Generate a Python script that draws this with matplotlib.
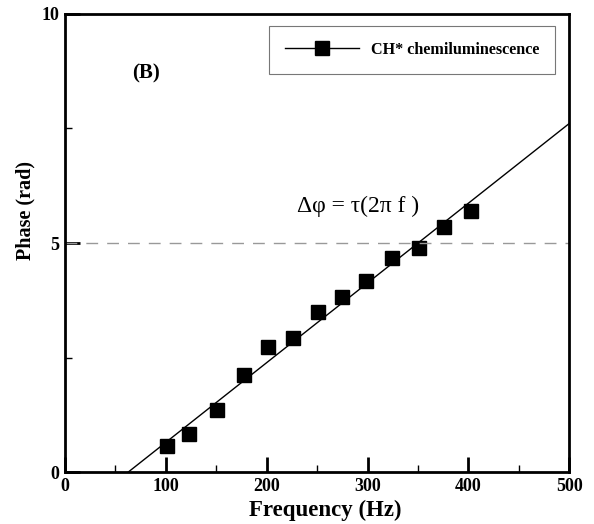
import matplotlib.pyplot as plt
from matplotlib.lines import Line2D
from matplotlib.ticker import MultipleLocator

plt.rcParams['font.family'] = ['Liberation Serif', 'DejaVu Serif']

# measured points (CH* chemiluminescence)
freq = [101, 123, 151, 177, 201, 226.5, 250.5, 274.5, 298.6, 324, 351, 375.3, 402.5]
phase = [0.57, 0.82, 1.35, 2.11, 2.72, 2.93, 3.49, 3.83, 4.16, 4.68, 4.90, 5.36, 5.70]

# linear fit end points
fit_x = [62.8, 500]
fit_y = [0.0, 7.61]

ref_level = 5

fig = plt.figure(figsize=(5.94, 5.24), dpi=100)
ax = fig.add_axes([0.1094, 0.0992, 0.849, 0.8741])

ax.plot(fit_x, fit_y, color='black', lw=1.0)
ax.plot(freq, phase, 's', color='black', ms=9.5, ls='none')
ax.axhline(ref_level, color='#999999', lw=1.0, dashes=(8.5, 6.5))

ax.set_xlim(0, 500)
ax.set_ylim(0, 10)
ax.xaxis.set_major_locator(MultipleLocator(100))
ax.xaxis.set_minor_locator(MultipleLocator(50))
ax.yaxis.set_major_locator(MultipleLocator(5))
ax.yaxis.set_minor_locator(MultipleLocator(2.5))
ax.tick_params(which='major', direction='in', length=11, width=2, labelsize=13, pad=4)
ax.tick_params(which='minor', direction='in', length=5, width=1)
for lab in ax.get_xticklabels() + ax.get_yticklabels():
    lab.set_fontweight('bold')
for s in ax.spines.values():
    s.set_linewidth(2)

ax.set_xlabel('Frequency (Hz)', fontsize=16.5, fontweight='bold')
ax.xaxis.set_label_coords(0.517, -0.06)
ax.set_ylabel('Phase (rad)', fontsize=14.5, fontweight='bold')
ax.yaxis.set_label_coords(-0.058, 0.572)

ax.text(0.16, 0.87, '(B)', transform=ax.transAxes, fontsize=15, fontweight='bold',
        ha='center', va='center')
ax.text(0.46, 0.579, 'Δφ = τ(2π f )', transform=ax.transAxes,
        fontsize=17, ha='left', va='center')

handle = Line2D([], [], color='black', lw=1.0, marker='s', ms=9.5)
leg = ax.legend([handle], ['CH* chemiluminescence'], loc='upper right',
                bbox_to_anchor=(0.972, 0.974), prop={'size': 11.6, 'weight': 'bold'},
                fancybox=False, framealpha=1, edgecolor='#777777', handlelength=4.6,
                borderpad=1.0, handletextpad=0.7, borderaxespad=0)
leg.get_frame().set_linewidth(0.8)

plt.savefig('out.png', dpi=100)
